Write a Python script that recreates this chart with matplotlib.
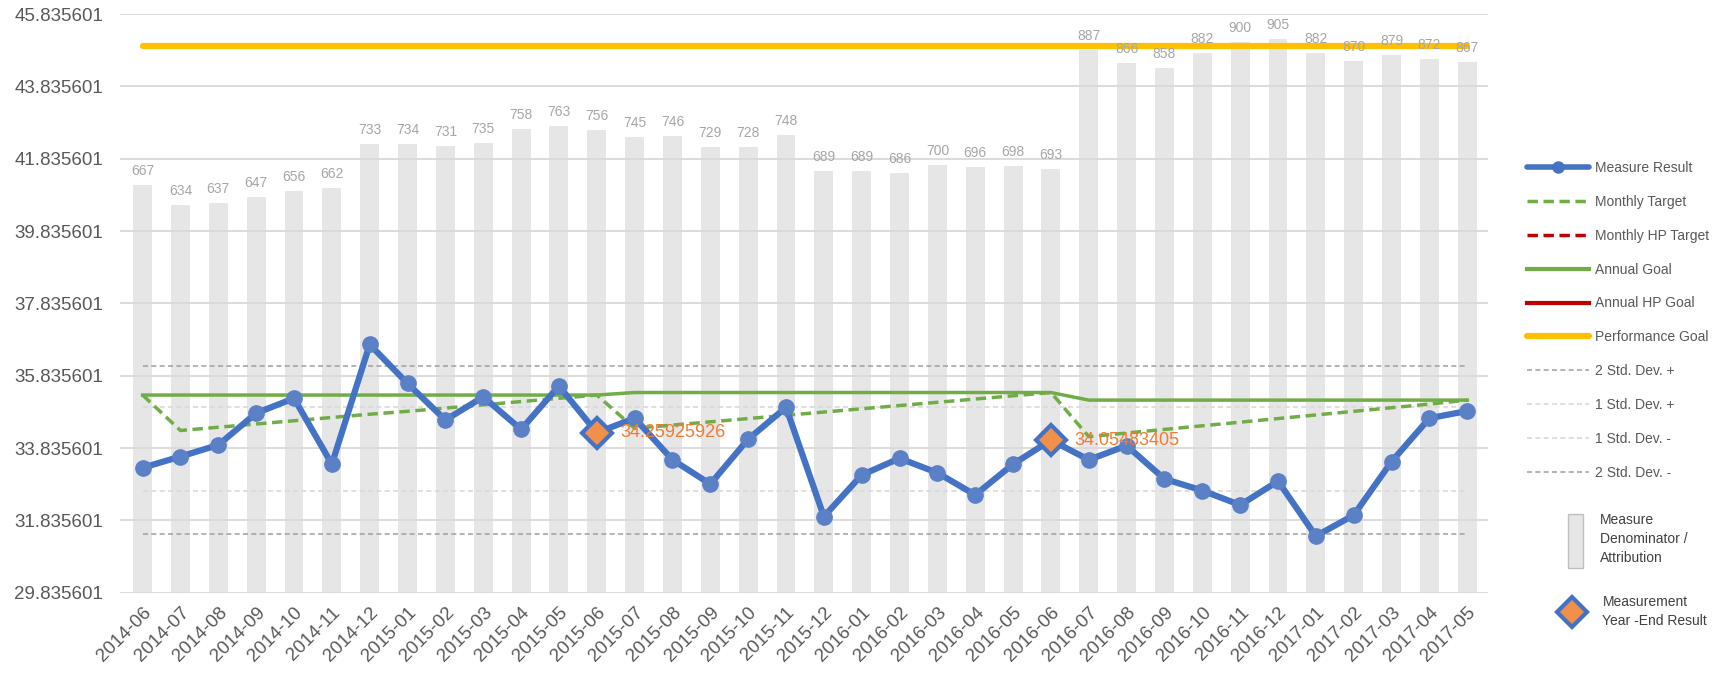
import numpy as np
import matplotlib
matplotlib.use('Agg')
import matplotlib.pyplot as plt
from matplotlib.lines import Line2D
from matplotlib.patches import Patch

plt.rcParams['font.family'] = ['Liberation Sans', 'DejaVu Sans']

# months on the category axis
months = ['2014-06', '2014-07', '2014-08', '2014-09', '2014-10', '2014-11',
          '2014-12', '2015-01', '2015-02', '2015-03', '2015-04', '2015-05',
          '2015-06', '2015-07', '2015-08', '2015-09', '2015-10', '2015-11',
          '2015-12', '2016-01', '2016-02', '2016-03', '2016-04', '2016-05',
          '2016-06', '2016-07', '2016-08', '2016-09', '2016-10', '2016-11',
          '2016-12', '2017-01', '2017-02', '2017-03', '2017-04', '2017-05']

# denominator bars (secondary axis)
denominator = [667, 634, 637, 647, 656, 662, 733, 734, 731, 735, 758, 763,
               756, 745, 746, 729, 728, 748, 689, 689, 686, 700, 696, 698,
               693, 887, 866, 858, 882, 900, 905, 882, 870, 879, 872, 867]

measure_result = [33.29, 33.60, 33.92, 34.80, 35.21, 33.39, 36.70, 35.62,
                  34.61, 35.25, 34.35, 35.55, 34.25925926, 34.66, 33.51, 32.84,
                  34.08, 34.96, 31.94, 33.09, 33.55, 33.15, 32.54, 33.39,
                  34.05483405, 33.51, 33.90, 32.98, 32.66, 32.26, 32.92, 31.40,
                  31.98, 33.46, 34.66, 34.86]

monthly_target = [35.30,
                  34.32, 34.41, 34.50, 34.59, 34.68, 34.77, 34.85, 34.94,
                  35.03, 35.12, 35.21, 35.30,
                  34.38, 34.47, 34.56, 34.65, 34.74, 34.83, 34.92, 35.01,
                  35.10, 35.19, 35.28, 35.37,
                  34.15, 34.25, 34.35, 34.45, 34.55, 34.65, 34.75, 34.85,
                  34.95, 35.05, 35.16]

annual_goal = [35.30] * 13 + [35.37] * 12 + [35.16] * 11

performance_goal = 44.96
sd2_plus = 36.11
sd1_plus = 34.96
sd1_minus = 32.66
sd2_minus = 31.46

year_end_months = ['2015-06', '2016-06']
year_end_values = [34.25925926, 34.05483405]

yticks = [29.835601, 31.835601, 33.835601, 35.835601, 37.835601,
          39.835601, 41.835601, 43.835601, 45.835601]

x = np.arange(len(months))
n = len(months)
grey_txt = '#595959'

fig = plt.figure(figsize=(17.13, 6.81), dpi=100)
ax = fig.add_axes([0.070, 0.1297, 0.7987, 0.8497])
ax2 = ax.twinx()
ax.set_zorder(ax2.get_zorder() + 1)
ax.patch.set_visible(False)

# bars
ax2.bar(x, denominator, width=0.5, color='#e7e6e6', zorder=1)
ax2.set_ylim(0, 946)
ax2.set_yticks([])
for s in ax2.spines.values():
    s.set_visible(False)

# bar labels drawn on the front axes so they sit over the lines
for i, v in enumerate(denominator):
    ax.annotate(str(v), (i, v), xycoords=ax2.transData, xytext=(0, 5),
                textcoords='offset points', ha='center', va='bottom',
                color='#a6a6a6', fontsize=10, zorder=7)

# std dev lines
ax.plot(x, [sd2_plus] * n, color='#a5a5a5', lw=1.2, ls=(0, (3, 2)))
ax.plot(x, [sd1_plus] * n, color='#d9d9d9', lw=1.2, ls=(0, (3, 2)))
ax.plot(x, [sd1_minus] * n, color='#d9d9d9', lw=1.2, ls=(0, (3, 2)))
ax.plot(x, [sd2_minus] * n, color='#a5a5a5', lw=1.2, ls=(0, (3, 2)))

# goals / targets
ax.plot(x, [performance_goal] * n, color='#ffc000', lw=4.5, solid_capstyle='round')
ax.plot(x, annual_goal, color='#70ad47', lw=2.5)
ax.plot(x, monthly_target, color='#70ad47', lw=2.5, ls=(0, (3, 1.6)))

# measure result
ax.plot(x, measure_result, color='#4472c4', lw=4.5, marker='o', ms=11,
        mfc='#5a80c6', mec='#5a80c6', solid_joinstyle='round')

# year end diamonds
for m, v in zip(year_end_months, year_end_values):
    i = months.index(m)
    ax.plot(i, v, marker='D', ms=15, mfc='#f0904a', mec='#4472c4', mew=3, zorder=5)
    ax.annotate(f'{v:.8f}', (i, v), xytext=(17, 0), textcoords='offset points',
                color='#ed7d31', fontsize=13, va='center', ha='left', zorder=6)

ax.set_xlim(-0.6, 35.55)
ax.set_ylim(yticks[0], yticks[-1])
ax.set_yticks(yticks)
ax.set_yticklabels([f'{t:.6f}' for t in yticks])
ax.set_xticks(x)
ax.set_xticklabels(months, rotation=45, ha='right', rotation_mode='anchor')
ax.tick_params(axis='both', length=0, labelsize=13.5, colors=grey_txt)
ax.tick_params(axis='x', pad=8)
ax.tick_params(axis='y', pad=12)
ax.grid(axis='y', color='#d9d9d9', lw=1.3)
ax.set_axisbelow(True)
for s in ax.spines.values():
    s.set_visible(False)

# legends
h1 = [
    Line2D([], [], color='#4472c4', lw=4, marker='o', ms=8, markevery=[1],
           solid_capstyle='round'),
    Line2D([], [], color='#70ad47', lw=2.5, ls=(0, (3, 1.6))),
    Line2D([], [], color='#c00000', lw=2.5, ls=(0, (3, 1.6))),
    Line2D([], [], color='#70ad47', lw=3),
    Line2D([], [], color='#c00000', lw=3),
    Line2D([], [], color='#ffc000', lw=4.5, solid_capstyle='round'),
    Line2D([], [], color='#a5a5a5', lw=1.2, ls=(0, (3, 2))),
    Line2D([], [], color='#d9d9d9', lw=1.2, ls=(0, (3, 2))),
    Line2D([], [], color='#d9d9d9', lw=1.2, ls=(0, (3, 2))),
    Line2D([], [], color='#a5a5a5', lw=1.2, ls=(0, (3, 2))),
]
l1 = ['Measure Result', 'Monthly Target', 'Monthly HP Target', 'Annual Goal',
      'Annual HP Goal', 'Performance Goal', '2 Std. Dev. +', '1 Std. Dev. +',
      '1 Std. Dev. -', '2 Std. Dev. -']
leg1 = fig.legend(h1, l1, loc='upper left', bbox_to_anchor=(0.884, 0.782),
                  frameon=False, fontsize=10, labelcolor=grey_txt,
                  handlelength=4.5, handletextpad=0.4, labelspacing=1.43)

leg2 = fig.legend([Patch(facecolor='#e7e6e6', edgecolor='#bfbfbf')],
                  ['Measure\nDenominator /\nAttribution'],
                  loc='upper left', bbox_to_anchor=(0.908, 0.265),
                  frameon=False, fontsize=10, labelcolor='#404040',
                  handlelength=1.1, handleheight=5.6, handletextpad=1.2)
for t in leg2.get_texts():
    t.set_linespacing(1.45)

leg3 = fig.legend([Line2D([], [], ls='none', marker='D', ms=15, mfc='#f0904a',
                          mec='#4472c4', mew=3)],
                  ['Measurement\nYear -End Result'],
                  loc='upper left', bbox_to_anchor=(0.903, 0.145),
                  frameon=False, fontsize=10, labelcolor='#404040',
                  handlelength=1.8, handletextpad=1.3)
for t in leg3.get_texts():
    t.set_linespacing(1.45)

fig.savefig('out.png', dpi=100)
